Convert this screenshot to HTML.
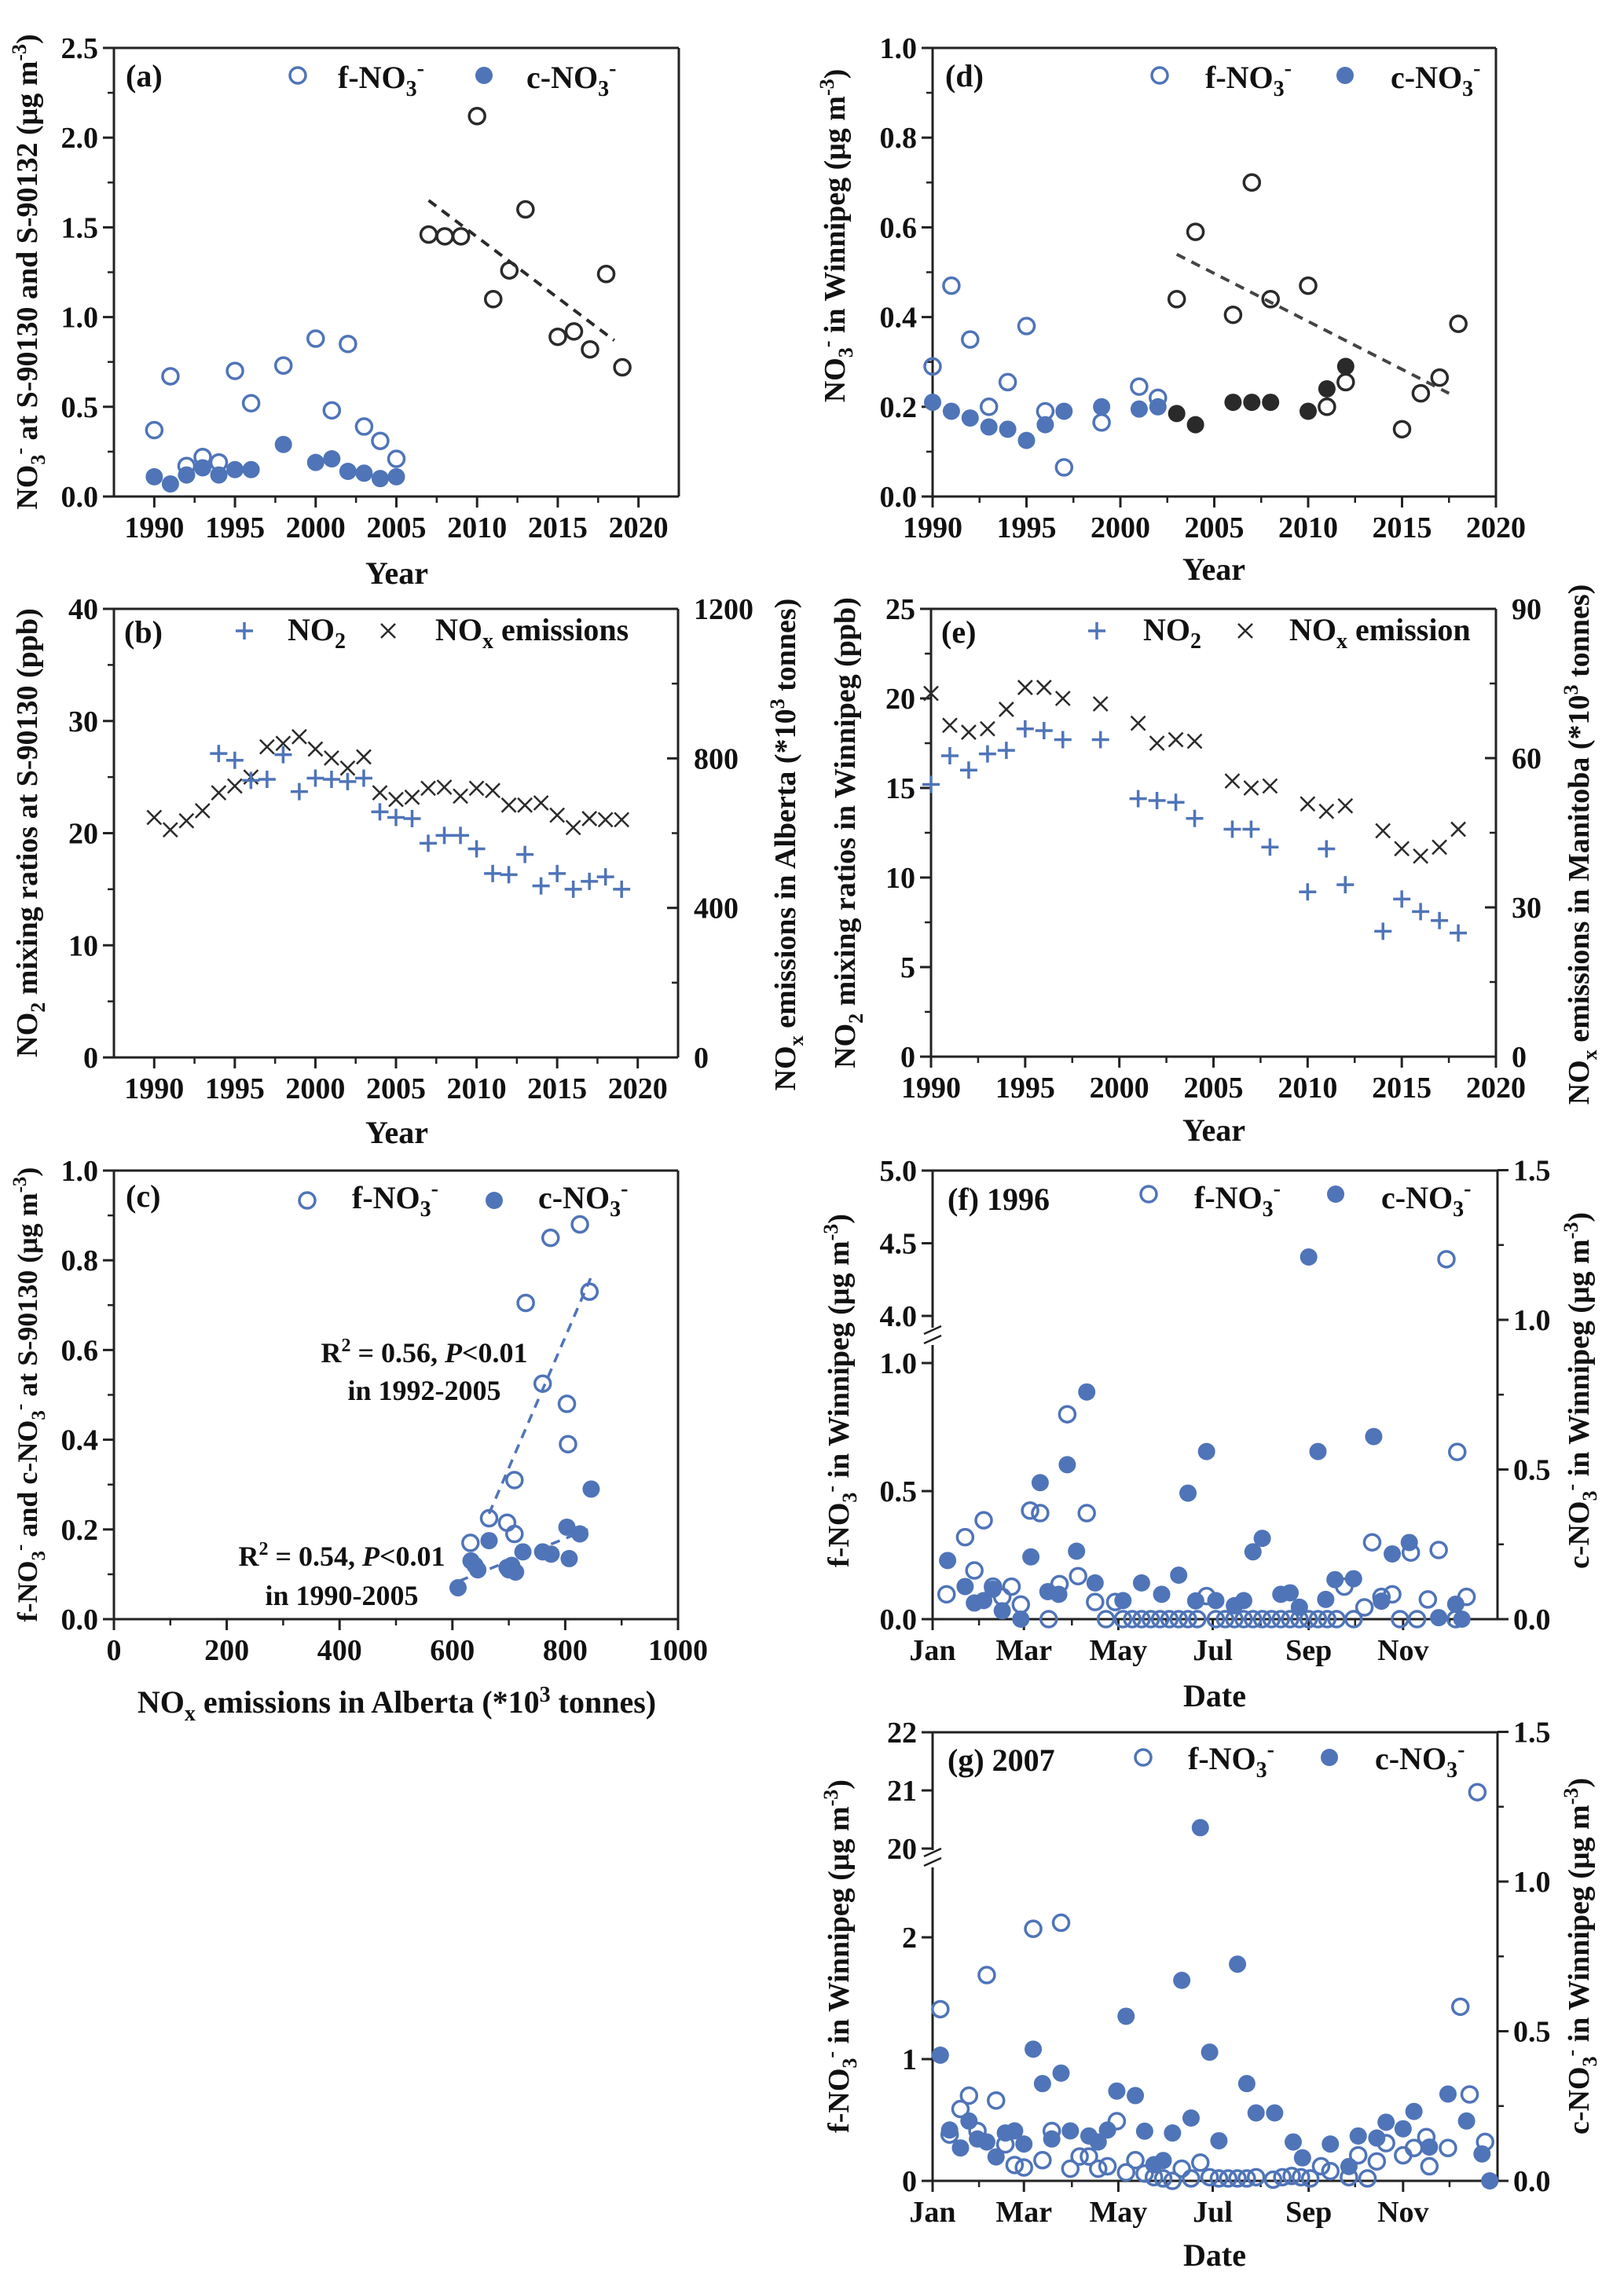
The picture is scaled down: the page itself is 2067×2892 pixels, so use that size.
<!DOCTYPE html>
<html><head><meta charset="utf-8"><title>Nitrate and NOx trends</title>
<style>
html,body{margin:0;padding:0;background:#fff;}
svg{display:block;font-family:"Liberation Serif",serif;font-weight:bold;}
text{fill:#111;}
</style></head>
<body>
<svg id="fig" width="2067" height="2892" viewBox="0 0 2067 2892" xmlns="http://www.w3.org/2000/svg">
<g id="static" font-size="40">
<text x="160" y="110">(a)</text>
<text x="430" y="112">f-NO<tspan font-size="28" dy="10">3</tspan><tspan font-size="28" dy="-26">-</tspan></text>
<text x="670" y="112">c-NO<tspan font-size="28" dy="10">3</tspan><tspan font-size="28" dy="-26">-</tspan></text>
<text x="505" y="743" text-anchor="middle">Year</text>
<text transform="translate(47,346) rotate(-90)" text-anchor="middle" font-size="38">NO<tspan font-size="26" dy="10">3</tspan><tspan font-size="26" dy="-24">-</tspan><tspan dy="14"> at S-90130 and S-90132 (μg m</tspan><tspan font-size="26" dy="-14">-3</tspan><tspan dy="14">)</tspan></text>
<text x="1203" y="110">(d)</text>
<text x="1534" y="112">f-NO<tspan font-size="28" dy="10">3</tspan><tspan font-size="28" dy="-26">-</tspan></text>
<text x="1770" y="112">c-NO<tspan font-size="28" dy="10">3</tspan><tspan font-size="28" dy="-26">-</tspan></text>
<text x="1545" y="738" text-anchor="middle">Year</text>
<text transform="translate(1075,300) rotate(-90)" text-anchor="middle" font-size="38">NO<tspan font-size="26" dy="10">3</tspan><tspan font-size="26" dy="-24">-</tspan><tspan dy="14"> in Winnipeg (μg m</tspan><tspan font-size="26" dy="-14">-3</tspan><tspan dy="14">)</tspan></text>
<text x="158" y="818">(b)</text>
<text x="366" y="815">NO<tspan font-size="28" dy="10">2</tspan></text>
<text x="554" y="815">NO<tspan font-size="28" dy="10">x</tspan><tspan dy="-10"> emissions</tspan></text>
<text x="505" y="1455" text-anchor="middle">Year</text>
<text transform="translate(47,1060) rotate(-90)" text-anchor="middle" font-size="38">NO<tspan font-size="26" dy="10">2</tspan><tspan dy="-10"> mixing ratios at S-90130 (ppb)</tspan></text>
<text transform="translate(1012,1075) rotate(-90)" text-anchor="middle" font-size="38">NO<tspan font-size="26" dy="10">x</tspan><tspan dy="-10"> emissions in Alberta (*10</tspan><tspan font-size="26" dy="-14">3</tspan><tspan dy="14"> tonnes)</tspan></text>
<text x="1198" y="818">(e)</text>
<text x="1455" y="815">NO<tspan font-size="28" dy="10">2</tspan></text>
<text x="1641" y="815">NO<tspan font-size="28" dy="10">x</tspan><tspan dy="-10"> emission</tspan></text>
<text x="1545" y="1452" text-anchor="middle">Year</text>
<text transform="translate(1088,1060) rotate(-90)" text-anchor="middle" font-size="38">NO<tspan font-size="26" dy="10">2</tspan><tspan dy="-10"> mixing ratios in Winnipeg (ppb)</tspan></text>
<text transform="translate(2022,1075) rotate(-90)" text-anchor="middle" font-size="38">NO<tspan font-size="26" dy="10">x</tspan><tspan dy="-10"> emissions in Manitoba (*10</tspan><tspan font-size="26" dy="-14">3</tspan><tspan dy="14"> tonnes)</tspan></text>
<text x="160" y="1536">(c)</text>
<text x="448" y="1538">f-NO<tspan font-size="28" dy="10">3</tspan><tspan font-size="28" dy="-26">-</tspan></text>
<text x="685" y="1538">c-NO<tspan font-size="28" dy="10">3</tspan><tspan font-size="28" dy="-26">-</tspan></text>
<text x="540" y="1734" text-anchor="middle" font-size="36">R<tspan font-size="24" dy="-14">2</tspan><tspan dy="14"> = 0.56, </tspan><tspan font-style="italic">P</tspan>&lt;0.01</text>
<text x="540" y="1782" text-anchor="middle" font-size="36">in 1992-2005</text>
<text x="435" y="1993" text-anchor="middle" font-size="36">R<tspan font-size="24" dy="-14">2</tspan><tspan dy="14"> = 0.54, </tspan><tspan font-style="italic">P</tspan>&lt;0.01</text>
<text x="435" y="2043" text-anchor="middle" font-size="36">in 1990-2005</text>
<text x="505" y="2180" text-anchor="middle">NO<tspan font-size="28" dy="10">x</tspan><tspan dy="-10"> emissions in Alberta (*10</tspan><tspan font-size="28" dy="-14">3</tspan><tspan dy="14"> tonnes)</tspan></text>
<text transform="translate(47,1775) rotate(-90)" text-anchor="middle" font-size="36">f-NO<tspan font-size="25" dy="10">3</tspan><tspan font-size="25" dy="-24">-</tspan><tspan dy="14"> and c-NO</tspan><tspan font-size="25" dy="10">3</tspan><tspan font-size="25" dy="-24">-</tspan><tspan dy="14"> at S-90130 (μg m</tspan><tspan font-size="25" dy="-14">-3</tspan><tspan dy="14">)</tspan></text>
<text x="1206" y="1540">(f) 1996</text>
<text x="1520" y="1538">f-NO<tspan font-size="28" dy="10">3</tspan><tspan font-size="28" dy="-26">-</tspan></text>
<text x="1758" y="1538">c-NO<tspan font-size="28" dy="10">3</tspan><tspan font-size="28" dy="-26">-</tspan></text>
<text x="1546" y="2172" text-anchor="middle">Date</text>
<text transform="translate(1080,1770) rotate(-90)" text-anchor="middle" font-size="38">f-NO<tspan font-size="26" dy="10">3</tspan><tspan font-size="26" dy="-24">-</tspan><tspan dy="14"> in Winnipeg (μg m</tspan><tspan font-size="26" dy="-14">-3</tspan><tspan dy="14">)</tspan></text>
<text transform="translate(2022,1770) rotate(-90)" text-anchor="middle" font-size="38">c-NO<tspan font-size="26" dy="10">3</tspan><tspan font-size="26" dy="-24">-</tspan><tspan dy="14"> in Winnipeg (μg m</tspan><tspan font-size="26" dy="-14">-3</tspan><tspan dy="14">)</tspan></text>
<text x="1206" y="2254">(g) 2007</text>
<text x="1512" y="2252">f-NO<tspan font-size="28" dy="10">3</tspan><tspan font-size="28" dy="-26">-</tspan></text>
<text x="1750" y="2252">c-NO<tspan font-size="28" dy="10">3</tspan><tspan font-size="28" dy="-26">-</tspan></text>
<text x="1546" y="2884" text-anchor="middle">Date</text>
<text transform="translate(1080,2490) rotate(-90)" text-anchor="middle" font-size="38">f-NO<tspan font-size="26" dy="10">3</tspan><tspan font-size="26" dy="-24">-</tspan><tspan dy="14"> in Winnipeg (μg m</tspan><tspan font-size="26" dy="-14">-3</tspan><tspan dy="14">)</tspan></text>
<text transform="translate(2022,2490) rotate(-90)" text-anchor="middle" font-size="38">c-NO<tspan font-size="26" dy="10">3</tspan><tspan font-size="26" dy="-24">-</tspan><tspan dy="14"> in Winnipeg (μg m</tspan><tspan font-size="26" dy="-14">-3</tspan><tspan dy="14">)</tspan></text>
</g>
<g id="dyn"></g>
</svg>
<script>
// ===== DATA =====
const aYearsF = [1990,1991,1992,1993,1994,1995,1996,1998,2000,2001,2002,2003,2004,2005];
const aValsF  = [0.37,0.67,0.17,0.22,0.19,0.70,0.52,0.73,0.88,0.48,0.85,0.39,0.31,0.21];
const aYearsC = [1990,1991,1992,1993,1994,1995,1996,1998,2000,2001,2002,2003,2004,2005];
const aValsC  = [0.11,0.07,0.12,0.16,0.12,0.15,0.15,0.29,0.19,0.21,0.14,0.13,0.10,0.11];
const aYearsK = [2007,2008,2009,2010,2011,2012,2013,2015,2016,2017,2018,2019];
const aValsK  = [1.46,1.45,1.45,2.12,1.10,1.26,1.60,0.89,0.92,0.82,1.24,0.72];
const aTrendX = [2007,2018.5];
const aTrendY = [1.65,0.87];
const aXTicks = [1990,1995,2000,2005,2010,2015,2020];
const aYTicks = [0,0.5,1.0,1.5,2.0,2.5];
const aYLabels = ["0.0","0.5","1.0","1.5","2.0","2.5"];
const dYearsF = [1990,1991,1992,1993,1994,1995,1996,1997,1999,2001,2002];
const dValsF  = [0.29,0.47,0.35,0.20,0.255,0.38,0.19,0.065,0.165,0.245,0.22];
const dYearsC = [1990,1991,1992,1993,1994,1995,1996,1997,1999,2001,2002];
const dValsC  = [0.21,0.19,0.175,0.155,0.15,0.125,0.16,0.19,0.20,0.195,0.20];
const dYearsKO = [2003,2004,2006,2007,2008,2010,2011,2012,2015,2016,2017,2018];
const dValsKO  = [0.44,0.59,0.405,0.70,0.44,0.47,0.20,0.255,0.15,0.23,0.265,0.385];
const dYearsKF = [2003,2004,2006,2007,2008,2010,2011,2012];
const dValsKF  = [0.185,0.16,0.21,0.21,0.21,0.19,0.24,0.29];
const dTrendX = [2003,2017.5];
const dTrendY = [0.54,0.23];
const dYTicks = [0,0.2,0.4,0.6,0.8,1.0];
const dYLabels = ["0.0","0.2","0.4","0.6","0.8","1.0"];
const bYearsNO2 = [1994,1995,1996,1997,1998,1999,2000,2001,2002,2003,2004,2005,2006,2007,2008,2009,2010,2011,2012,2013,2014,2015,2016,2017,2018,2019];
const bNO2 = [27.1,26.5,24.7,24.8,27.0,23.7,24.9,24.8,24.6,24.9,21.9,21.4,21.3,19.1,19.8,19.8,18.6,16.4,16.3,18.1,15.3,16.4,15.0,15.7,16.1,15.0];
const bYearsNOx = [1990,1991,1992,1993,1994,1995,1996,1997,1998,1999,2000,2001,2002,2003,2004,2005,2006,2007,2008,2009,2010,2011,2012,2013,2014,2015,2016,2017,2018,2019];
const bNOx = [642,609,633,660,708,726,750,831,840,858,825,801,774,804,708,690,696,720,723,699,720,714,675,675,681,648,615,639,636,636];
const bYTicks = [0,10,20,30,40];
const bY2Ticks = [0,400,800,1200];
const eYearsNO2 = [1990,1991,1992,1993,1994,1995,1996,1997,1999,2001,2002,2003,2004,2006,2007,2008,2010,2011,2012,2014,2015,2016,2017,2018];
const eNO2 = [15.2,16.8,16.0,16.9,17.1,18.3,18.2,17.7,17.7,14.4,14.3,14.2,13.3,12.7,12.7,11.7,9.2,11.6,9.6,7.0,8.8,8.1,7.6,6.9];
const eYearsNOx = [1990,1991,1992,1993,1994,1995,1996,1997,1999,2001,2002,2003,2004,2006,2007,2008,2010,2011,2012,2014,2015,2016,2017,2018];
const eNOx = [73,66.6,65.2,65.9,69.8,74.2,74.2,72,70.9,67,63,63.7,63.4,55.4,54,54.4,50.8,49.3,50.4,45.4,41.8,40.3,42.1,45.7];
const eYTicks = [0,5,10,15,20,25];
const eY2Ticks = [0,30,60,90];
const cEmisF = [632,665,697,710,710,730,760,774,803,805,826,843];
const cValsF = [0.17,0.225,0.215,0.19,0.31,0.705,0.525,0.85,0.48,0.39,0.88,0.73];
const cEmisC = [610,633,640,645,665,697,700,705,712,725,760,775,803,807,826,846];
const cValsC = [0.07,0.13,0.12,0.11,0.175,0.115,0.11,0.12,0.105,0.15,0.15,0.145,0.205,0.135,0.19,0.29];
const cTrendFX = [665,845]; const cTrendFY = [0.235,0.76];
const cTrendCX = [612,840]; const cTrendCY = [0.085,0.2];
const cXTicks = [0,200,400,600,800,1000];
const cYTicks = [0,0.2,0.4,0.6,0.8,1.0];
const cYLabels = ["0.0","0.2","0.4","0.6","0.8","1.0"];
const monthDays = [0,59,120,181,243,304];
const monthLabels = ["Jan","Mar","May","Jul","Sep","Nov"];
const fDaysF = [9,21,27,33,39,45,51,57,63,69.5,75,82,87,94,99.6,105,112,118,123,129,135,141,147,153,159,165,171,177,183,189,195,201,207,213,219,225,231,237,243,249,255,261,266,272,279,284,290,297,302,309,313,320,327,332,338,339,345];
const fValsF = [0.097,0.32,0.19,0.386,0.127,0.087,0.127,0.057,0.424,0.414,0,0.137,0.80,0.168,0.414,0.067,0,0.067,0,0,0,0,0,0,0,0,0,0.09,0,0,0,0,0,0,0,0,0,0,0,0,0,0,0.127,0,0.046,0.30,0.087,0.097,0,0.26,0,0.077,0.27,4.39,0,0.653,0.087];
const fDaysC = [9.7,21,27,33,39,45,57,63.5,69.5,74.5,81.5,87,93,99.6,105,123,135,148,159,165,170,177,183,195,201,207,213,225,231,237,243,249,254,260,272,285,290,297,308,327,338,342];
const fValsC = [0.196,0.109,0.054,0.062,0.10,0.028,0,0.208,0.456,0.092,0.083,0.516,0.227,0.759,0.121,0.062,0.121,0.083,0.147,0.421,0.061,0.56,0.062,0.045,0.062,0.225,0.27,0.083,0.088,0.04,1.21,0.56,0.066,0.132,0.135,0.61,0.06,0.218,0.256,0.005,0.05,0];
const fYTicksLow = [0,0.5,1.0]; const fYLabelsLow = ["0.0","0.5","1.0"];
const fYTicksHigh = [4.0,4.5,5.0]; const fYLabelsHigh = ["4.0","4.5","5.0"];
const fY2Ticks = [0,0.5,1.0,1.5]; const fY2Labels = ["0.0","0.5","1.0","1.5"];
const gDaysF = [5,11,18,23.5,29,35,41,47,53,59,65,71,77,83,89,95,101,107,113,119,125,131,137,143,149,155,161,167,173,179,185,191,197,203,209,220,226,232,238,244,251,257,269,275,281,287,293,304,311,319,321,333,341,347,352,357];
const gValsF = [1.41,0.38,0.59,0.70,0.41,1.69,0.66,0.30,0.13,0.11,2.07,0.17,0.41,2.12,0.10,0.20,0.20,0.10,0.12,0.49,0.07,0.17,0.06,0.03,0.02,0,0.10,0.02,0.15,0.03,0.02,0.02,0.02,0.02,0.03,0.01,0.03,0.04,0.03,0.02,0.12,0.08,0.03,0.21,0.02,0.16,0.31,0.21,0.27,0.36,0.12,0.27,1.43,0.71,20.97,0.32];
const gDaysC = [5,11,18,23.5,29,35,41,47,53,59,65,71,77,83,89,101,107,113,119,125,131,137,143,149,155,161,167,173,179,185,197,203,209,221,233,239,257,269,275,287,293,304,311,321,333,345,355,360];
const gValsC = [0.42,0.17,0.11,0.20,0.14,0.13,0.08,0.16,0.167,0.123,0.44,0.325,0.14,0.36,0.167,0.15,0.13,0.17,0.30,0.55,0.285,0.166,0.054,0.068,0.16,0.67,0.21,1.18,0.43,0.134,0.724,0.325,0.227,0.227,0.13,0.077,0.123,0.048,0.15,0.143,0.196,0.174,0.232,0.113,0.29,0.2,0.09,0];
const gYTicksLow = [0,1,2]; const gYLabelsLow = ["0","1","2"];
const gYTicksHigh = [20,21,22]; const gYLabelsHigh = ["20","21","22"];
const gY2Ticks = [0,0.5,1.0,1.5]; const gY2Labels = ["0.0","0.5","1.0","1.5"];

// ===== DRAW =====
const NS = "http://www.w3.org/2000/svg";
const dyn = document.getElementById('dyn');
const BLUE = "#4f74b8", DARK = "#2a2a2a", AX = "#222";
function mk(tag, attrs, parent){
  const e = document.createElementNS(NS, tag);
  for (const k in attrs) e.setAttribute(k, attrs[k]);
  (parent||dyn).appendChild(e);
  return e;
}
function line(x1,y1,x2,y2,w,col,dash){
  const l = mk('line',{x1:x1,y1:y1,x2:x2,y2:y2,stroke:col||AX,'stroke-width':w||3});
  if (dash) l.setAttribute('stroke-dasharray',dash);
  
  
  return l;
}
function label(x,y,txt,anchor){
  const t = mk('text',{x:x,y:y,'text-anchor':anchor||'middle','font-size':38});
  t.textContent = txt;
  
  
  return t;
}
function openC(x,y,col,name){
  const c = mk('circle',{cx:x,cy:y,r:10,fill:'none',stroke:col,'stroke-width':3.5});
  
  
}
function fillC(x,y,col,name){
  const c = mk('circle',{cx:x,cy:y,r:11,fill:col});
  
  
}
function plus(x,y,name){
  const p = mk('path',{d:`M${x-11},${y}H${x+11}M${x},${y-11}V${y+11}`,stroke:BLUE,'stroke-width':3.5,fill:'none'});
  
  
}
function cross(x,y,name){
  const s=9;
  const p = mk('path',{d:`M${x-s},${y-s}L${x+s},${y+s}M${x-s},${y+s}L${x+s},${y-s}`,stroke:DARK,'stroke-width':2.5,fill:'none'});
  
  
}
function frame(x0,x1,y0,y1){
  line(x0,y1,x1,y1); line(x1,y0,x1,y1); line(x0,y0,x1,y0); line(x0,y0,x0,y1);
}
function yearAxis(X,y1,yrs,minor){
  yrs.forEach(v=>{ line(X(v),y1,X(v),y1+14,3); label(X(v),y1+52,String(v)); });
  minor.forEach(v=>{ line(X(v),y1,X(v),y1+8,2.5); });
}
function leftAxis(Y,x0,ticks,labels,minor){
  ticks.forEach((v,i)=>{ line(x0-14,Y(v),x0,Y(v),3); label(x0-20,Y(v)+13,labels[i],'end'); });
  (minor||[]).forEach(v=>{ line(x0-8,Y(v),x0,Y(v),2.5); });
}
function rightAxis(Y,x1,ticks,labels,minor,inward){
  const d = inward ? -14 : 14, dm = inward ? -8 : 8;
  ticks.forEach((v,i)=>{ line(x1,Y(v),x1+d,Y(v),3); label(x1+20,Y(v)+13,labels[i],'start'); });
  (minor||[]).forEach(v=>{ line(x1,Y(v),x1+dm,Y(v),2.5); });
}
const yrMinor = [1992.5,1997.5,2002.5,2007.5,2012.5,2017.5];

(function(){
  const X = v=>145+(v-1987.5)*(719/35), Y = v=>632-v*228.4;
  frame(145,864,61,632);
  yearAxis(X,632,aXTicks,yrMinor);
  leftAxis(Y,145,aYTicks,aYLabels,[0.25,0.75,1.25,1.75,2.25]);
  line(X(aTrendX[0]),Y(aTrendY[0]),X(aTrendX[1]),Y(aTrendY[1]),4,DARK,'12 9');
  aYearsF.forEach((v,i)=>openC(X(v),Y(aValsF[i]),BLUE,'a-f-no3-point'));
  aYearsC.forEach((v,i)=>fillC(X(v),Y(aValsC[i]),BLUE,'a-c-no3-point'));
  aYearsK.forEach((v,i)=>openC(X(v),Y(aValsK[i]),DARK,'a-f-no3-later-point'));
  openC(379,96,BLUE,'a-legend-open-marker'); fillC(616,96,BLUE,'a-legend-filled-marker');
})();
(function(){
  const X = v=>1187+(v-1990)*(717/30), Y = v=>632-v*571;
  frame(1187,1904,61,632);
  yearAxis(X,632,aXTicks,yrMinor);
  leftAxis(Y,1187,dYTicks,dYLabels,[0.1,0.3,0.5,0.7,0.9]);
  line(X(dTrendX[0]),Y(dTrendY[0]),X(dTrendX[1]),Y(dTrendY[1]),4,'#444','12 9');
  dYearsF.forEach((v,i)=>openC(X(v),Y(dValsF[i]),BLUE,'d-f-no3-point'));
  dYearsC.forEach((v,i)=>fillC(X(v),Y(dValsC[i]),BLUE,'d-c-no3-point'));
  dYearsKO.forEach((v,i)=>openC(X(v),Y(dValsKO[i]),DARK,'d-f-no3-later-point'));
  dYearsKF.forEach((v,i)=>fillC(X(v),Y(dValsKF[i]),DARK,'d-c-no3-later-point'));
  openC(1476,96,BLUE,'d-legend-open-marker'); fillC(1712,96,BLUE,'d-legend-filled-marker');
})();
(function(){
  const X = v=>145+(v-1987.5)*(718/35), Y = v=>1346-v*(571/40), Y2 = v=>1346-v*(571/1200);
  line(145,775,863,775); line(145,775,145,1346); line(145,1346,863,1346); line(863,775,863,1346);
  yearAxis(X,1346,aXTicks,yrMinor);
  leftAxis(Y,145,bYTicks,bYTicks.map(String),[5,15,25,35]);
  rightAxis(Y2,863,bY2Ticks,bY2Ticks.map(String),[200,600,1000],true);
  bYearsNOx.forEach((v,i)=>cross(X(v),Y2(bNOx[i]),'b-nox-emission-point'));
  bYearsNO2.forEach((v,i)=>plus(X(v),Y(bNO2[i]),'b-no2-point'));
  plus(311,803,'b-legend-plus'); cross(494,803,'b-legend-cross');
})();
(function(){
  const X = v=>1185+(v-1990)*(719/30), Y = v=>1345-v*(570/25), Y2 = v=>1345-v*(570/90);
  line(1185,775,1904,775); line(1185,775,1185,1345); line(1185,1345,1904,1345); line(1904,775,1904,1345);
  yearAxis(X,1345,aXTicks,yrMinor);
  leftAxis(Y,1185,eYTicks,eYTicks.map(String),[2.5,7.5,12.5,17.5,22.5]);
  rightAxis(Y2,1904,eY2Ticks,eY2Ticks.map(String),[15,45,75],true);
  eYearsNOx.forEach((v,i)=>cross(X(v),Y2(eNOx[i]),'e-nox-emission-point'));
  eYearsNO2.forEach((v,i)=>plus(X(v),Y(eNO2[i]),'e-no2-point'));
  plus(1396,803,'e-legend-plus'); cross(1585,803,'e-legend-cross');
})();
(function(){
  const X = v=>145+v*0.718, Y = v=>2061-v*571;
  frame(145,863,1490,2061);
  cXTicks.forEach(v=>{ line(X(v),2061,X(v),2075,3); label(X(v),2113,String(v)); });
  [100,300,500,700,900].forEach(v=>line(X(v),2061,X(v),2069,2.5));
  leftAxis(Y,145,cYTicks,cYLabels,[0.1,0.3,0.5,0.7,0.9]);
  line(X(cTrendFX[0]),Y(cTrendFY[0]),X(cTrendFX[1]),Y(cTrendFY[1]),3.5,BLUE,'12 9');
  line(X(cTrendCX[0]),Y(cTrendCY[0]),X(cTrendCX[1]),Y(cTrendCY[1]),3.5,BLUE,'12 9');
  cEmisF.forEach((v,i)=>openC(X(v),Y(cValsF[i]),BLUE,'c-f-no3-point'));
  cEmisC.forEach((v,i)=>fillC(X(v),Y(cValsC[i]),BLUE,'c-c-no3-point'));
  openC(391,1528,BLUE,'c-legend-open-marker'); fillC(629,1528,BLUE,'c-legend-filled-marker');
})();
function datePanel(top,bot,brk,YL,Y2,lowT,lowL,highT,highL,y2T,y2L,daysF,valsF,daysC,valsC,pfx,legY,lx1,lx2){
  const X = d=>1187+d*(719/365);
  line(1187,top,1906,top); line(1187,bot,1906,bot); line(1906,top,1906,bot);
  line(1187,top,1187,brk-10); line(1187,brk+12,1187,bot);
  line(1176,brk-2,1198,brk-12,2.5); line(1176,brk+10,1198,brk,2.5);
  monthDays.forEach((d,i)=>{ line(X(d),bot,X(d),bot+14,3); label(X(d),bot+52,monthLabels[i]); });
  [30,90,151,212,273,334].forEach(d=>line(X(d),bot,X(d),bot+8,2.5));
  leftAxis(YL,1187,lowT,lowL); leftAxis(YL,1187,highT,highL);
  rightAxis(Y2,1906,y2T,y2L,[0.25,0.75,1.25],false);
  daysF.forEach((d,i)=>openC(X(d),YL(valsF[i]),BLUE,pfx+'-f-no3-point'));
  daysC.forEach((d,i)=>fillC(X(d),Y2(valsC[i]),BLUE,pfx+'-c-no3-point'));
  openC(lx1,legY,BLUE,pfx+'-legend-open-marker'); fillC(lx2,legY,BLUE,pfx+'-legend-filled-marker');
}
datePanel(1490,2061,1700,
  v=> v<2 ? 2061-v*326 : 1675-(v-4)*185,
  v=>2061-v*381,
  fYTicksLow,fYLabelsLow,fYTicksHigh,fYLabelsHigh,fY2Ticks,fY2Labels,
  fDaysF,fValsF,fDaysC,fValsC,'f',1520,1462,1700);
datePanel(2205,2776,2365,
  v=> v<10 ? 2776-v*155 : 2353-(v-20)*74,
  v=>2776-v*381,
  gYTicksLow,gYLabelsLow,gYTicksHigh,gYLabelsHigh,gY2Ticks,gY2Labels,
  gDaysF,gValsF,gDaysC,gValsC,'g',2237,1455,1692);
</script>
</body></html>
